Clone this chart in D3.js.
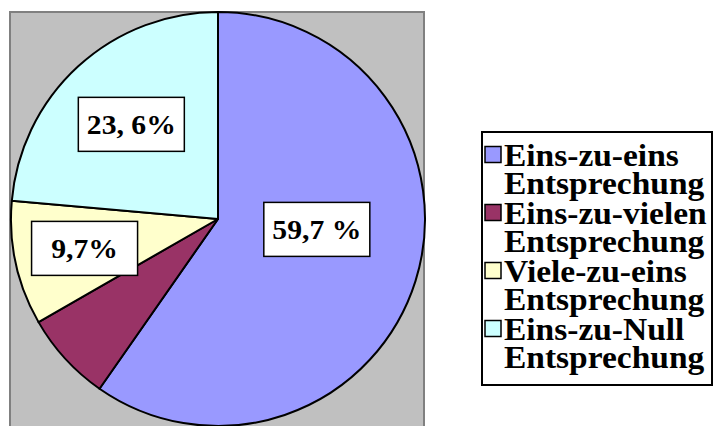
<!DOCTYPE html>
<html>
<head>
<meta charset="utf-8">
<script src="https://cdn.jsdelivr.net/npm/d3@7"></script>
<style>
  body { margin: 0; background: #fff; }
</style>
</head>
<body>
<svg id="chart" width="722" height="426"></svg>
<script>
// Werte
var categories = ["Eins-zu-eins Entsprechung", "Eins-zu-vielen Entsprechung", "Viele-zu-eins Entsprechung", "Eins-zu-Null Entsprechung"];
var values = [59.7, 7.0, 9.7, 23.6];
var labels = ["59,7 %", "", "9,7%", "23, 6%"];
var colors = ["#9999FF", "#993366", "#FFFFCC", "#CCFFFF"];

var font = "'Liberation Serif', 'Times New Roman', 'DejaVu Serif', serif";
var plot = { x: 10, y: 12, w: 414, h: 430 };
var cx = 218, cy = 219, radius = 207;

// Beschriftungen: [Radius-Anteil, Winkelverschiebung]
var labelLayout = [[0.48, -0.2], null, [0.66, 0], [0.62, 0]];
var labelBox = { w: 106, h: 54 };
var labelStretch = 1.06;   // Schrift im Original leicht breitgezogen
var legendStretch = 1.08;

var svg = d3.select("#chart");

// Zeichenfläche
svg.append("rect")
	.attr("x", plot.x).attr("y", plot.y)
	.attr("width", plot.w).attr("height", plot.h)
	.attr("fill", "#C0C0C0")
	.attr("stroke", "#808080")
	.attr("stroke-width", 2);

var pie = d3.pie().sort(null).value(function(d) { return d; });
var arcs = pie(values);

var arc = d3.arc().innerRadius(0).outerRadius(radius);

var g = svg.append("g").attr("transform", "translate(" + cx + "," + cy + ")");

g.selectAll("path.slice")
	.data(arcs)
	.enter()
	.append("path")
	.attr("class", "slice")
	.attr("d", arc)
	.attr("fill", function(d, i) { return colors[i]; })
	.attr("stroke", "#000")
	.attr("stroke-width", 2)
	.attr("stroke-linejoin", "round");

// Datenbeschriftungen
var lab = g.selectAll("g.lab")
	.data(arcs.filter(function(d, i) { return labels[i] !== ""; }))
	.enter()
	.append("g")
	.attr("class", "lab")
	.attr("transform", function(d) {
		var L = labelLayout[d.index];
		var a = (d.startAngle + d.endAngle) / 2 + L[1];
		var r = radius * L[0];
		return "translate(" + (Math.sin(a) * r) + "," + (-Math.cos(a) * r) + ")";
	});

lab.append("rect")
	.attr("x", -labelBox.w / 2).attr("y", -labelBox.h / 2)
	.attr("width", labelBox.w).attr("height", labelBox.h)
	.attr("fill", "#fff")
	.attr("stroke", "#000")
	.attr("stroke-width", 1.5);

lab.append("text")
	.attr("text-anchor", "middle")
	.attr("dy", "0.36em")
	.attr("transform", "scale(" + labelStretch + ",1)")
	.attr("font-family", font)
	.attr("font-weight", "bold")
	.attr("font-size", 28)
	.text(function(d) { return labels[d.index]; });

// Legende
var legend = { x: 482, y: 132, w: 230, h: 253 };
svg.append("rect")
	.attr("x", legend.x).attr("y", legend.y)
	.attr("width", legend.w).attr("height", legend.h)
	.attr("fill", "#fff")
	.attr("stroke", "#000")
	.attr("stroke-width", 2);

var itemY = d3.scaleBand()
	.domain(categories)
	.range([legend.y + 8, legend.y + legend.h - 13]);
var lineH = itemY.bandwidth() / 2;

var item = svg.selectAll("g.item")
	.data(categories)
	.enter()
	.append("g")
	.attr("class", "item")
	.attr("transform", function(d) { return "translate(" + legend.x + "," + itemY(d) + ")"; });

item.append("rect")
	.attr("x", 3).attr("y", lineH / 2 - 8)
	.attr("width", 16).attr("height", 16)
	.attr("fill", function(d, i) { return colors[i]; })
	.attr("stroke", "#000")
	.attr("stroke-width", 1.5);

var t = item.append("text")
	.attr("transform", "translate(22,0) scale(" + legendStretch + ",1)")
	.attr("font-family", font)
	.attr("font-weight", "bold")
	.attr("font-size", 31);
t.append("tspan").attr("x", 0).attr("y", lineH / 2 + 11)
	.text(function(d) { return d.split(" ")[0]; });
t.append("tspan").attr("x", 0).attr("y", lineH * 1.5 + 11)
	.text(function(d) { return d.split(" ")[1]; });
</script>
</body>
</html>
